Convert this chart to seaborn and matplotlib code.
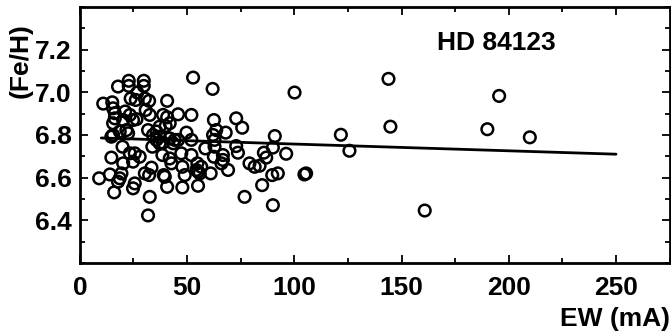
import numpy as np
import pandas as pd
import seaborn as sns
import matplotlib.pyplot as plt
from matplotlib.ticker import MultipleLocator

# equivalent widths (mA) of the Fe I lines
ew = [52.8, 61.9, 100.1, 22.8, 29.8, 17.8, 22.8, 29.8, 26.8, 23.7,
      26.1, 30.3, 32.3, 10.9, 15.1, 40.7, 15.5, 16.3, 16.3, 15.5,
      21.1, 23.3, 20.2, 24.8, 26.4, 30.7, 32.6, 38.8, 40.7, 41.9,
      40.0, 37.2, 35.7, 45.8, 52.0, 14.7, 15.5, 18.6, 21.7, 22.5,
      31.8, 49.7, 52.0, 62.5, 63.6, 62.1, 62.8, 68.0, 72.9, 75.7,
      34.1, 35.7, 37.2, 41.9, 44.2, 45.8, 43.5, 19.9, 33.8, 37.2,
      38.8, 72.9, 58.5, 62.8, 90.9, 90.0, 96.2, 14.7, 20.2, 23.3,
      25.6, 27.9, 24.8, 38.5, 41.9, 42.7, 47.3, 52.0, 62.5, 66.7,
      66.7, 66.0, 73.7, 85.8, 86.9, 14.0, 9.0, 19.4, 18.6, 17.8,
      16.0, 25.6, 24.8, 30.3, 32.3, 33.4, 39.1, 39.6, 40.7, 47.8,
      48.9, 47.8, 54.8, 56.6, 55.1, 55.9, 54.3, 61.0, 69.1, 79.1,
      81.5, 83.8, 89.7, 92.3, 104.7, 105.5, 55.1, 76.8, 85.0, 90.0,
      32.6, 31.8, 143.9, 195.5, 144.8, 121.7, 125.7, 190.0, 209.8, 160.8]

# iron abundance from each line
feh = [7.069, 7.016, 6.999, 7.054, 7.054, 7.027, 7.030, 7.030, 6.999, 6.971,
       6.964, 6.971, 6.960, 6.947, 6.953, 6.960, 6.925, 6.902, 6.878, 6.855,
       6.910, 6.894, 6.870, 6.870, 6.874, 6.917, 6.894, 6.894, 6.883, 6.855,
       6.842, 6.839, 6.816, 6.897, 6.894, 6.792, 6.800, 6.816, 6.823, 6.808,
       6.823, 6.811, 6.777, 6.870, 6.823, 6.800, 6.777, 6.811, 6.878, 6.834,
       6.800, 6.777, 6.792, 6.784, 6.777, 6.777, 6.761, 6.745, 6.745, 6.761,
       6.764, 6.748, 6.737, 6.745, 6.795, 6.741, 6.712, 6.694, 6.667, 6.714,
       6.714, 6.698, 6.675, 6.706, 6.690, 6.667, 6.714, 6.706, 6.698, 6.706,
       6.683, 6.667, 6.717, 6.717, 6.694, 6.615, 6.597, 6.620, 6.597, 6.581,
       6.531, 6.573, 6.550, 6.620, 6.612, 6.647, 6.612, 6.604, 6.557, 6.651,
       6.612, 6.554, 6.667, 6.651, 6.628, 6.620, 6.636, 6.620, 6.636, 6.667,
       6.651, 6.656, 6.612, 6.620, 6.615, 6.620, 6.562, 6.510, 6.565, 6.471,
       6.510, 6.423, 7.063, 6.983, 6.839, 6.801, 6.726, 6.827, 6.789, 6.446]

# linear fit
fit_x = [10, 250]
fit_y = [6.786, 6.71]

star = "HD 84123"

df = pd.DataFrame({"ew": ew, "feh": feh})
fit = pd.DataFrame({"ew": fit_x, "feh": fit_y})

sns.set_style("ticks", {"axes.edgecolor": "black", "text.color": "black",
                        "axes.labelcolor": "black", "xtick.color": "black",
                        "ytick.color": "black"})
plt.rcParams["font.family"] = ["Liberation Sans", "DejaVu Sans"]
plt.rcParams["font.weight"] = "bold"

fig = plt.figure(figsize=(6.71, 3.31), dpi=100)
ax = fig.add_axes([0.119, 0.2054, 0.879, 0.7736])

sns.scatterplot(data=df, x="ew", y="feh", ax=ax, marker="o", s=70,
                facecolor="none", edgecolor="black", linewidth=1.8)
sns.lineplot(data=fit, x="ew", y="feh", ax=ax, color="black", linewidth=2)

ax.set_xlim(0, 275)
ax.set_ylim(6.2, 7.4)
ax.xaxis.set_major_locator(MultipleLocator(50))
ax.xaxis.set_minor_locator(MultipleLocator(25))
ax.yaxis.set_major_locator(MultipleLocator(0.2))
ax.yaxis.set_minor_locator(MultipleLocator(0.1))
ax.set_yticks([6.4, 6.6, 6.8, 7.0, 7.2])
ax.tick_params(which="both", direction="in", top=True, right=True, width=1.3,
               color="black", labelcolor="black")
ax.tick_params(axis="y", which="major", pad=6)
ax.tick_params(which="major", length=6, labelsize=19)
ax.tick_params(axis="x", which="major", pad=9)
ax.tick_params(which="minor", length=3.5)
for lab in ax.get_xticklabels() + ax.get_yticklabels():
    lab.set_fontweight("bold")
for sp in ax.spines.values():
    sp.set_linewidth(2)
    sp.set_color("black")

ax.set_xlabel("EW (mA)", fontsize=19, fontweight="bold", ha="right", color="black")
ax.xaxis.set_label_coords(1.0, -0.17)
ax.set_ylabel("(Fe/H)", fontsize=19, fontweight="bold", va="center", color="black")
ax.yaxis.set_label_coords(-0.10, 0.79)

ax.text(194, 7.232, star, fontsize=19, fontweight="bold", ha="center",
        va="center", color="black")

fig.savefig("out.png", dpi=100)
